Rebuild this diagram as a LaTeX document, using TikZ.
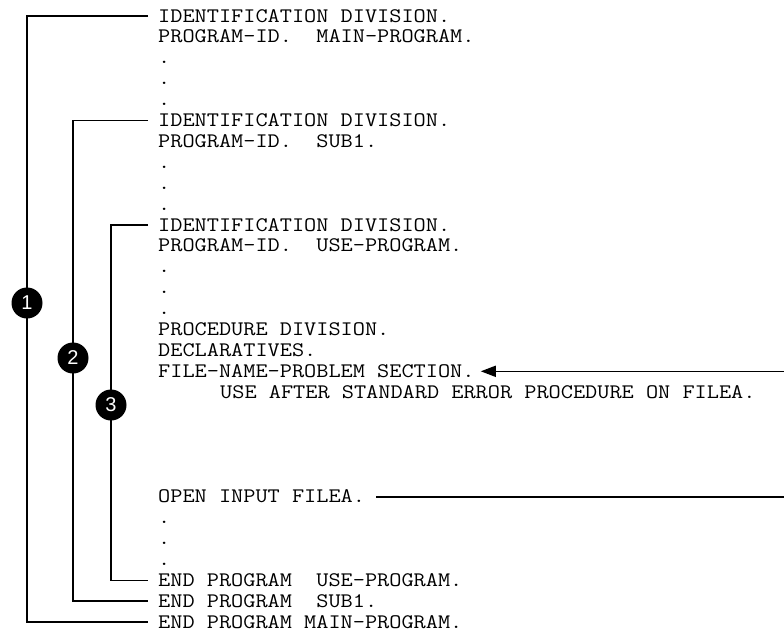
\documentclass[tikz,border=0pt]{standalone}
\usepackage{fontspec}
\usepackage{graphicx}
\newfontfamily\numfont{Liberation Sans}
\usetikzlibrary{arrows.meta}
\newcommand\codeline[1]{\scalebox{1.143}[1]{#1}}
\begin{document}
\begin{tikzpicture}[x=1pt,y=-1pt,
  code/.style={anchor=base west,inner sep=0pt,text height=12pt,text depth=0pt,font=\ttfamily\fontsize{20.67}{21}\selectfont},
  brk/.style={line width=1.6pt},
  badge/.style={circle,fill=black,text=white,minimum size=31pt,inner sep=0pt,font=\numfont\fontsize{20}{20}\selectfont},
  pointer/.style={line width=1.6pt}]
\fill[white] (0,0) rectangle (784,632);
\useasboundingbox (0,0) rectangle (784,632);
% rows: baseline = 22 + 20.9 n
\node[code] (id1)  at (158,{22+20.9*0})  {\codeline{IDENTIFICATION DIVISION.}};
\node[code] (pid1) at (158,{22+20.9*1})  {\codeline{PROGRAM-ID.\ \ MAIN-PROGRAM.}};
\node[code] (d1a)  at (158,{22+20.9*2})  {\codeline{.}};
\node[code] (d1b)  at (158,{22+20.9*3})  {\codeline{.}};
\node[code] (d1c)  at (158,{22+20.9*4})  {\codeline{.}};
\node[code] (id2)  at (158,{22+20.9*5})  {\codeline{IDENTIFICATION DIVISION.}};
\node[code] (pid2) at (158,{22+20.9*6})  {\codeline{PROGRAM-ID.\ \ SUB1.}};
\node[code] (d2a)  at (158,{22+20.9*7})  {\codeline{.}};
\node[code] (d2b)  at (158,{22+20.9*8})  {\codeline{.}};
\node[code] (d2c)  at (158,{22+20.9*9})  {\codeline{.}};
\node[code] (id3)  at (158,{22+20.9*10}) {\codeline{IDENTIFICATION DIVISION.}};
\node[code] (pid3) at (158,{22+20.9*11}) {\codeline{PROGRAM-ID.\ \ USE-PROGRAM.}};
\node[code] (d3a)  at (158,{22+20.9*12}) {\codeline{.}};
\node[code] (d3b)  at (158,{22+20.9*13}) {\codeline{.}};
\node[code] (d3c)  at (158,{22+20.9*14}) {\codeline{.}};
\node[code] (proc) at (158,{22+20.9*15}) {\codeline{PROCEDURE DIVISION.}};
\node[code] (decl) at (158,{22+20.9*16}) {\codeline{DECLARATIVES.}};
\node[code] (file) at (158,{22+20.9*17}) {\codeline{FILE-NAME-PROBLEM SECTION.}};
\node[code] (use)  at (220,{22+20.9*18}) {\codeline{USE AFTER STANDARD ERROR PROCEDURE ON FILEA.}};
\node[code] (open) at (158,{22+20.9*23}) {\codeline{OPEN INPUT FILEA.}};
\node[code] (d4a)  at (158,{22+20.9*24}) {\codeline{.}};
\node[code] (d4b)  at (158,{22+20.9*25}) {\codeline{.}};
\node[code] (d4c)  at (158,{22+20.9*26}) {\codeline{.}};
\node[code] (end3) at (158,{22+20.9*27}) {\codeline{END PROGRAM\ \ USE-PROGRAM.}};
\node[code] (end2) at (158,{22+20.9*28}) {\codeline{END PROGRAM\ \ SUB1.}};
\node[code] (end1) at (158,{22+20.9*29}) {\codeline{END PROGRAM MAIN-PROGRAM.}};
% bracket columns
\coordinate (b1x) at (27,0);
\coordinate (b2x) at (73,0);
\coordinate (b3x) at (111,0);
\draw[brk] ([xshift=-10pt]id1.west) -- (id1.west -| b1x) -- (end1.west -| b1x) -- ([xshift=-10pt]end1.west);
\draw[brk] ([xshift=-10pt]id2.west) -- (id2.west -| b2x) -- (end2.west -| b2x) -- ([xshift=-10pt]end2.west);
\draw[brk] ([xshift=-10pt]id3.west) -- (id3.west -| b3x) -- (end3.west -| b3x) -- ([xshift=-10pt]end3.west);
% badges
\node[badge] (n1) at (27,303) {1};
\node[badge] (n2) at (73,358) {2};
\node[badge] (n3) at (111,405) {3};
% pointers
\coordinate (r1) at (786,0);
\coordinate (r2) at (786,0);
\draw[pointer,-{Triangle[length=15pt,width=11pt]}] (file.west -| r1) -- ([xshift=6pt]file.east);
\draw[pointer] ([xshift=11pt]open.east) -- (open.west -| r2);
\end{tikzpicture}
\end{document}
